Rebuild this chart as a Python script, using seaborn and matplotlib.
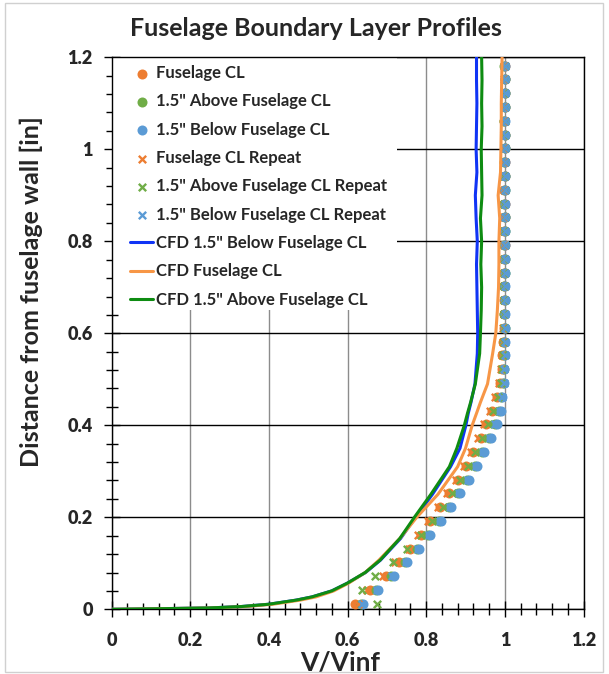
import matplotlib
matplotlib.use("Agg")
import matplotlib.pyplot as plt
from matplotlib.patches import Rectangle
from matplotlib.ticker import MultipleLocator
from matplotlib.font_manager import FontProperties
import seaborn as sns
import pandas as pd

sns.set_theme(style="white")
plt.rcParams["font.family"] = ["Lato", "DejaVu Sans"]
plt.rcParams["font.weight"] = "bold"
plt.rcParams["axes.labelweight"] = "bold"

# ---- measured profiles (height above wall [in]) ----
y_meas = [0.012, 0.042, 0.072, 0.102, 0.132, 0.162, 0.192, 0.222, 0.252, 0.282,
          0.312, 0.342, 0.372, 0.402, 0.432, 0.462, 0.492, 0.522, 0.552, 0.582,
          0.612, 0.642, 0.672, 0.702, 0.732, 0.762, 0.792, 0.822, 0.852, 0.882,
          0.912, 0.942, 0.972, 1.002, 1.032, 1.062, 1.092, 1.122, 1.152, 1.182]

fus_cl = [0.620, 0.658, 0.698, 0.730, 0.760, 0.786, 0.811, 0.836, 0.859, 0.882,
          0.901, 0.920, 0.939, 0.952, 0.967, 0.979, 0.988, 0.992, 0.994, 0.996,
          0.997, 0.998, 0.998, 0.999, 0.999, 0.999, 1.000, 0.999, 1.000, 1.000,
          0.999, 1.000, 1.000, 1.000, 1.000, 0.999, 1.000, 1.000, 1.000, 1.000]

above_cl = [0.634, 0.672, 0.711, 0.746, 0.776, 0.804, 0.832, 0.857, 0.882, 0.904,
            0.924, 0.943, 0.960, 0.974, 0.985, 0.991, 0.995, 0.998, 0.999, 0.999,
            1.000, 0.999, 1.000, 0.999, 1.000, 1.000, 0.999, 1.000, 1.000, 0.999,
            1.000, 1.000, 0.999, 1.000, 1.000, 0.999, 1.000, 1.000, 1.000, 0.999]

below_cl = [0.640, 0.678, 0.717, 0.752, 0.781, 0.809, 0.838, 0.863, 0.887, 0.909,
            0.929, 0.948, 0.965, 0.979, 0.989, 0.994, 0.997, 0.999, 1.000, 1.000,
            1.001, 1.000, 1.001, 1.000, 1.001, 1.001, 1.000, 1.001, 1.001, 1.000,
            1.001, 1.001, 1.000, 1.001, 1.001, 1.000, 1.001, 1.001, 1.001, 1.000]

fus_cl_rep = [0.626, 0.650, 0.690, 0.722, 0.756, 0.780, 0.805, 0.830, 0.853, 0.876,
              0.895, 0.914, 0.933, 0.946, 0.962, 0.975, 0.986, 0.990, 0.992, 0.995,
              0.996, 0.997, 0.998, 0.998, 0.999, 0.998, 0.999, 0.999, 0.998, 0.999,
              0.999, 0.998, 0.999, 0.999, 0.999, 0.998, 0.999, 0.999, 0.999, 0.999]

above_cl_rep = [0.676, 0.637, 0.671, 0.716, 0.752, 0.787, 0.815, 0.842, 0.865, 0.887,
                0.906, 0.925, 0.943, 0.957, 0.971, 0.982, 0.990, 0.994, 0.996, 0.997,
                0.998, 0.998, 0.999, 0.999, 0.999, 0.999, 1.000, 0.999, 1.000, 0.999,
                1.000, 0.999, 1.000, 1.000, 0.999, 1.000, 1.000, 0.999, 1.000, 1.000]

below_cl_rep = [0.637, 0.675, 0.714, 0.749, 0.778, 0.806, 0.835, 0.860, 0.884, 0.906,
                0.926, 0.945, 0.962, 0.976, 0.987, 0.993, 0.997, 0.999, 1.000, 1.000,
                1.001, 1.000, 1.001, 1.000, 1.001, 1.001, 1.000, 1.001, 1.001, 1.000,
                1.001, 1.001, 1.000, 1.001, 1.001, 1.000, 1.001, 1.001, 1.001, 1.000]

# ---- CFD profiles ----
cfd_y = [0.0, 0.001, 0.003, 0.006, 0.011, 0.02, 0.027, 0.04, 0.057, 0.08,
         0.107, 0.154, 0.2, 0.25, 0.31, 0.35, 0.40, 0.426, 0.45, 0.49,
         0.556, 0.6, 0.65, 0.7, 0.75, 0.8, 0.85, 0.9, 0.95, 1.0,
         1.05, 1.1, 1.15, 1.2]

cfd_below = [0.0, 0.10, 0.25, 0.33, 0.40, 0.47, 0.51, 0.56, 0.60, 0.646,
             0.684, 0.735, 0.773, 0.816, 0.862, 0.886, 0.901, 0.907, 0.914, 0.924,
             0.930, 0.931, 0.930, 0.929, 0.928, 0.930, 0.927, 0.925, 0.929, 0.927,
             0.928, 0.929, 0.928, 0.928]

cfd_fus = [0.0, 0.10, 0.26, 0.34, 0.41, 0.48, 0.52, 0.565, 0.603, 0.645,
           0.680, 0.733, 0.776, 0.830, 0.880, 0.900, 0.917, 0.928, 0.938, 0.956,
           0.969, 0.977, 0.981, 0.984, 0.985, 0.985, 0.987, 0.983, 0.989, 0.990,
           0.991, 0.991, 0.992, 0.993]

cfd_above = [0.0, 0.10, 0.25, 0.33, 0.40, 0.47, 0.51, 0.56, 0.60, 0.645,
             0.683, 0.733, 0.770, 0.812, 0.859, 0.878, 0.897, 0.905, 0.913, 0.925,
             0.936, 0.938, 0.940, 0.941, 0.939, 0.941, 0.938, 0.942, 0.941, 0.940,
             0.942, 0.941, 0.942, 0.941]

x_ticks = [0, 0.2, 0.4, 0.6, 0.8, 1.0, 1.2]
x_tick_labels = ["0", "0.2", "0.4", "0.6", "0.8", "1", "1.2"]
y_ticks = [0, 0.2, 0.4, 0.6, 0.8, 1.0, 1.2]
y_tick_labels = ["0", "0.2", "0.4", "0.6", "0.8", "1", "1.2"]

ORANGE = "#ED7D31"
GREEN = "#70AD47"
BLUE = "#5B9BD5"

fig = plt.figure(figsize=(6.09, 6.74), dpi=100)
ax = fig.add_axes([111.5 / 609, 1 - 609.3 / 674, 472 / 609, 552 / 674])

meas = pd.DataFrame({"y": y_meas, "fus": fus_cl, "above": above_cl, "below": below_cl,
                     "fus_r": fus_cl_rep, "above_r": above_cl_rep, "below_r": below_cl_rep})
cfd = pd.DataFrame({"y": cfd_y, "below": cfd_below, "fus": cfd_fus, "above": cfd_above})

dot_kw = dict(marker="o", s=52, linewidth=0, zorder=3)
sns.scatterplot(data=meas, x="fus", y="y", color=ORANGE, label="Fuselage CL", ax=ax, **dot_kw)
sns.scatterplot(data=meas, x="above", y="y", color=GREEN, label='1.5" Above Fuselage CL', ax=ax, **dot_kw)
sns.scatterplot(data=meas, x="below", y="y", color=BLUE, label='1.5" Below Fuselage CL', ax=ax, **dot_kw)

x_kw = dict(marker="x", s=28, linewidth=1.7, zorder=3)
sns.scatterplot(data=meas, x="fus_r", y="y", color=ORANGE, label="Fuselage CL Repeat", ax=ax, **x_kw)
sns.scatterplot(data=meas, x="above_r", y="y", color=GREEN, label='1.5" Above Fuselage CL Repeat', ax=ax, **x_kw)
sns.scatterplot(data=meas, x="below_r", y="y", color=BLUE, label='1.5" Below Fuselage CL Repeat', ax=ax, **x_kw)

line_kw = dict(sort=False, estimator=None, linewidth=2.2, zorder=4)
sns.lineplot(data=cfd, x="below", y="y", color="#1034F5", label='CFD 1.5" Below Fuselage CL', ax=ax, **line_kw)
sns.lineplot(data=cfd, x="fus", y="y", color="#F79646", label="CFD Fuselage CL", ax=ax, **line_kw)
sns.lineplot(data=cfd, x="above", y="y", color="#0E8C12", label='CFD 1.5" Above Fuselage CL', ax=ax, **line_kw)

ax.set_xlim(0, 1.2)
ax.set_ylim(0, 1.2)
tick_font = FontProperties(family="Lato", weight="heavy", size=13)
ax.set_xticks(x_ticks, x_tick_labels)
ax.set_yticks(y_ticks, y_tick_labels)
for lab in ax.get_xticklabels() + ax.get_yticklabels():
    lab.set_fontproperties(tick_font)
ax.xaxis.set_minor_locator(MultipleLocator(0.04))
ax.yaxis.set_minor_locator(MultipleLocator(0.04))

ax.tick_params(axis="both", which="major", direction="inout", length=11, width=1.0,
               color="black", bottom=True, left=True)
ax.tick_params(axis="both", which="minor", direction="inout", length=8, width=1.0,
               color="black", bottom=True, left=True)
ax.tick_params(axis="x", which="major", pad=11)
ax.tick_params(axis="y", which="major", pad=8)

ax.set_axisbelow(True)
ax.xaxis.grid(True, color="#8C8C8C", linewidth=1.0)
ax.yaxis.grid(True, color="black", linewidth=1.0)
for sp in ax.spines.values():
    sp.set_visible(True)
    sp.set_color("black")
    sp.set_linewidth(1.0)

# white panel behind the legend entries
panel_bottom = (609.3 - 310) / 552
ax.add_patch(Rectangle((0, panel_bottom), (397 - 111.5) / 472, 1 - panel_bottom,
                       transform=ax.transAxes, facecolor="white", edgecolor="none", zorder=1.5))

ax.set_xlabel("V/Vinf", fontsize=19, fontweight="bold")
ax.set_ylabel("Distance from fuselage wall [in]", fontsize=18, fontweight="bold")
ax.xaxis.set_label_coords((340 - 111.5) / 472, (609.3 - 663) / 552)
ax.xaxis.label.set_va("center")
ax.yaxis.set_label_coords((31 - 111.5) / 472, (609.3 - 292) / 552)
ax.yaxis.label.set_va("center")

leg = ax.legend(loc="upper left", bbox_to_anchor=((130 - 111.5) / 472, 1 - (65 - 57.3) / 552),
                borderaxespad=0, borderpad=0, frameon=False,
                handlelength=1.38, handletextpad=0.15, labelspacing=0.74,
                prop={"weight": "bold", "size": 12})

fig.suptitle("Fuselage Boundary Layer Profiles", x=316 / 609, y=1 - 28 / 674,
             va="center", fontsize=18, fontweight="bold")

fig.patches.append(Rectangle((5 / 609, 2 / 674), 598 / 609, 669 / 674, transform=fig.transFigure,
                             facecolor="none", edgecolor="#D0D0D0", linewidth=1.0))

fig.savefig("out.png", dpi=100, facecolor="white")
